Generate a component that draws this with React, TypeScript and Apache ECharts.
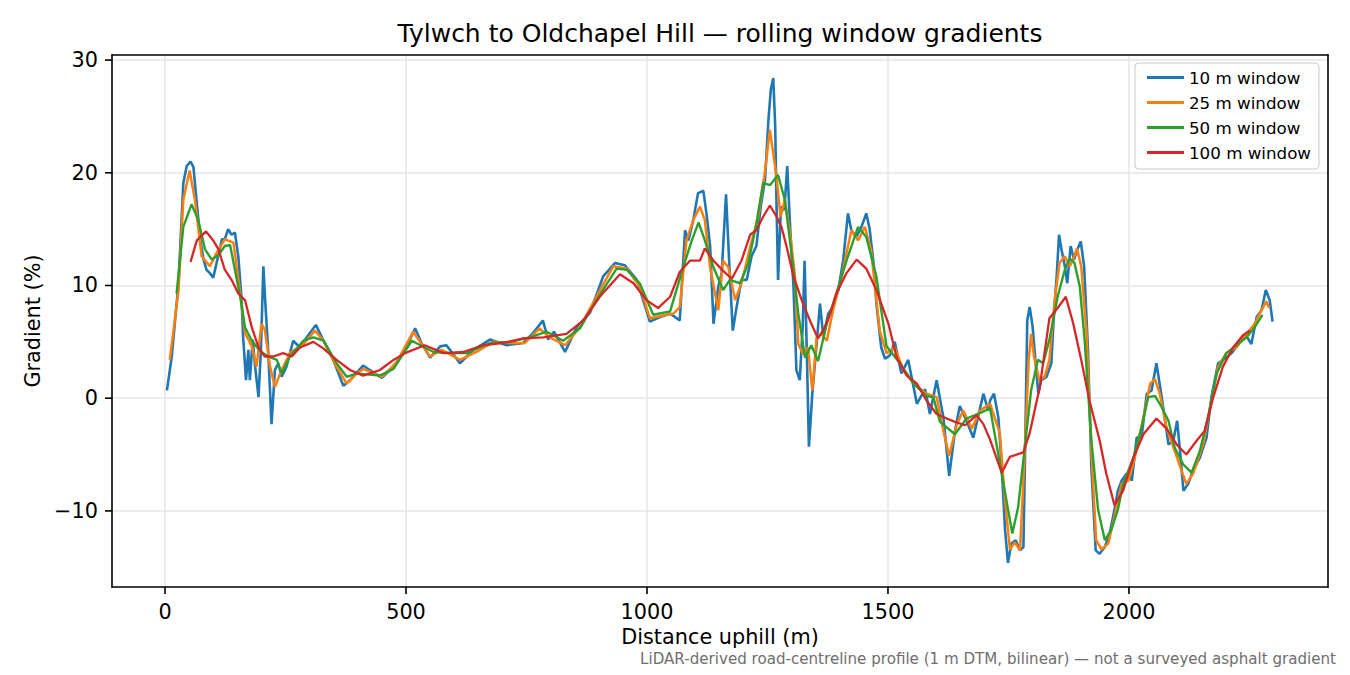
import { useEffect, useRef } from 'react'
import * as echarts from 'echarts'

const seriesNames = ['10 m window', '25 m window', '50 m window', '100 m window']
const seriesColors = ['#1f77b4', '#ff7f0e', '#2ca02c', '#d62728']
const xTicks = [0, 500, 1000, 1500, 2000]
const yTicks = [-10, 0, 10, 20, 30]

// distance (m), gradient (%)
const win10: [number, number][] = [
  [4, 0.7], [14, 3.7], [28, 10.2], [38, 19.1], [45, 20.6], [53, 21.0], [59, 20.5], [64, 18.2],
  [73, 14.1], [80, 12.3], [86, 11.4], [93, 11.1], [100, 10.7], [107, 12.0], [118, 14.1],
  [124, 14.1], [131, 15.0], [138, 14.5], [145, 14.7], [152, 12.6], [159, 8.7], [162, 5.5],
  [168, 1.6], [173, 4.3], [176, 1.6], [182, 5.2], [187, 2.8], [194, 0.1], [199, 4.3],
  [204, 11.7], [209, 7.8], [214, 4.3], [221, -2.3], [228, 2.5], [235, 3.1], [242, 1.9],
  [252, 2.8], [266, 5.1], [280, 4.5], [294, 5.4], [313, 6.5], [329, 5.1], [349, 3.4],
  [370, 1.1], [384, 1.6], [411, 2.9], [425, 2.5], [450, 1.8], [474, 2.8], [498, 4.3],
  [519, 6.2], [532, 4.9], [550, 3.6], [571, 4.6], [584, 4.7], [612, 3.1], [640, 4.3],
  [674, 5.2], [709, 4.7], [743, 4.9], [764, 5.8], [784, 6.9], [795, 5.2], [807, 5.9],
  [830, 4.1], [854, 6.3], [882, 7.6], [909, 10.8], [934, 12.0], [954, 11.8], [979, 10.5],
  [1006, 6.8], [1027, 7.2], [1048, 7.5], [1068, 6.9], [1079, 14.9], [1086, 14.0],
  [1096, 15.8], [1106, 18.2], [1117, 18.4], [1124, 16.2], [1131, 13.5], [1138, 6.6],
  [1148, 9.9], [1155, 11.1], [1164, 18.1], [1171, 11.7], [1178, 6.0], [1186, 8.1],
  [1196, 10.5], [1207, 10.5], [1217, 12.6], [1227, 13.5], [1236, 17.0], [1245, 19.4],
  [1252, 24.7], [1257, 27.4], [1262, 28.4], [1266, 24.2], [1269, 16.7], [1272, 10.5],
  [1278, 17.0], [1285, 16.7], [1291, 20.6], [1297, 15.2], [1304, 9.9], [1310, 2.5],
  [1317, 1.6], [1323, 6.3], [1327, 12.2], [1332, 3.4], [1336, -4.3], [1343, 0.4],
  [1351, 4.3], [1359, 8.4], [1366, 5.4], [1376, 7.5], [1386, 8.1], [1397, 9.6],
  [1407, 12.2], [1417, 16.4], [1424, 14.9], [1434, 14.3], [1445, 15.2], [1455, 16.4],
  [1462, 15.0], [1470, 12.0], [1476, 8.4], [1486, 4.5], [1494, 3.5], [1504, 3.8],
  [1514, 5.0], [1528, 2.2], [1542, 3.4], [1560, -0.5], [1577, 0.8], [1587, -1.4],
  [1601, 1.6], [1615, -1.7], [1627, -6.9], [1639, -2.9], [1649, -0.7], [1663, -2.0],
  [1677, -3.5], [1698, 0.4], [1708, -1.1], [1712, -0.2], [1720, 0.4], [1729, -1.7],
  [1736, -6.1], [1743, -11.7], [1749, -14.6], [1756, -12.9], [1765, -12.6], [1774, -13.5],
  [1781, -13.2], [1784, -6.1], [1789, 6.9], [1794, 8.1], [1800, 6.4], [1807, 2.8],
  [1812, 0.4], [1818, 1.6], [1829, 1.9], [1839, 3.1], [1844, 7.2], [1850, 10.8],
  [1855, 14.5], [1860, 13.2], [1867, 11.7], [1872, 10.2], [1879, 13.5], [1886, 12.3],
  [1893, 13.2], [1900, 13.9], [1907, 11.7], [1915, 4.3], [1922, -6.1], [1931, -13.5],
  [1939, -13.8], [1950, -13.2], [1960, -12.0], [1970, -9.9], [1977, -8.2], [1985, -7.3],
  [1995, -6.7], [2006, -7.3], [2016, -3.5], [2026, -3.5], [2037, 0.4], [2047, 0.7],
  [2057, 3.1], [2068, 0.1], [2082, -4.1], [2092, -3.8], [2100, -2.0], [2106, -4.7],
  [2113, -8.2], [2123, -7.6], [2133, -6.4], [2147, -5.3], [2161, -3.5], [2171, 0.1],
  [2185, 3.1], [2199, 3.5], [2213, 4.0], [2227, 4.8], [2241, 5.7], [2254, 4.8],
  [2265, 7.2], [2275, 7.8], [2284, 9.6], [2292, 8.7], [2298, 6.8],
]

const win25: [number, number][] = [
  [10, 3.4], [28, 9.6], [38, 17.6], [51, 20.2], [62, 17.6], [76, 12.6], [93, 11.7],
  [107, 12.9], [124, 14.1], [142, 13.8], [156, 9.3], [166, 5.8], [180, 4.6], [190, 2.8],
  [200, 6.6], [207, 6.1], [218, 2.8], [228, 1.0], [242, 2.5], [259, 4.0], [287, 4.8],
  [311, 6.0], [329, 5.1], [356, 2.8], [377, 1.3], [398, 2.2], [411, 2.6], [450, 1.9],
  [481, 3.2], [515, 5.9], [550, 3.7], [574, 4.3], [612, 3.4], [646, 4.1], [681, 5.0],
  [716, 4.9], [747, 4.9], [777, 6.2], [798, 5.4], [830, 4.7], [861, 6.3], [895, 9.0],
  [930, 11.7], [958, 11.5], [985, 9.9], [1006, 7.1], [1041, 7.4], [1055, 7.5], [1068, 8.1],
  [1082, 14.0], [1096, 15.8], [1110, 17.0], [1120, 15.8], [1131, 11.6], [1148, 7.8],
  [1158, 12.2], [1169, 11.6], [1183, 8.7], [1196, 10.2], [1214, 13.4], [1231, 16.1],
  [1245, 20.2], [1255, 23.8], [1262, 21.7], [1269, 19.6], [1277, 16.1], [1286, 17.6],
  [1297, 14.6], [1307, 10.8], [1314, 4.8], [1324, 3.9], [1334, 4.5], [1343, 0.7],
  [1352, 5.4], [1362, 5.7], [1373, 5.1], [1386, 7.8], [1404, 10.8], [1424, 14.9],
  [1438, 14.0], [1452, 15.2], [1465, 13.1], [1483, 6.0], [1497, 4.0], [1514, 4.5],
  [1532, 2.5], [1553, 1.3], [1580, 0.4], [1601, 0.1], [1615, -2.9], [1627, -5.1],
  [1643, -2.3], [1656, -1.1], [1674, -2.7], [1691, -1.1], [1712, -0.5], [1732, -3.1],
  [1743, -9.1], [1753, -13.4], [1763, -12.8], [1774, -13.5], [1784, -4.6], [1792, 3.4],
  [1797, 5.7], [1803, 3.7], [1814, 1.6], [1825, 1.9], [1835, 3.4], [1846, 8.7],
  [1856, 12.0], [1867, 12.6], [1877, 11.7], [1884, 12.3], [1892, 13.3], [1901, 11.7],
  [1912, 5.8], [1922, -4.6], [1932, -12.6], [1943, -13.4], [1957, -12.9], [1970, -10.5],
  [1985, -7.6], [1999, -7.3], [2012, -5.3], [2030, -1.7], [2044, 1.3], [2054, 1.7],
  [2064, 0.4], [2078, -2.6], [2095, -4.7], [2109, -6.4], [2119, -7.6], [2133, -6.7],
  [2154, -4.1], [2171, -0.2], [2185, 2.8], [2202, 4.0], [2223, 4.5], [2244, 5.7],
  [2261, 6.6], [2275, 7.8], [2285, 8.6], [2291, 8.0],
]

const win50: [number, number][] = [
  [24, 9.3], [38, 15.2], [55, 17.2], [69, 15.8], [83, 13.2], [97, 12.3], [111, 12.7],
  [124, 13.5], [135, 13.6], [145, 11.4], [156, 9.0], [166, 6.3], [180, 5.1], [197, 4.2],
  [214, 3.7], [232, 3.4], [242, 2.2], [259, 3.7], [287, 5.1], [308, 5.4], [329, 5.1],
  [356, 3.1], [377, 1.9], [398, 2.2], [446, 2.0], [474, 2.6], [512, 5.1], [557, 4.1],
  [591, 4.0], [626, 4.0], [674, 4.9], [716, 5.0], [757, 5.4], [792, 5.9], [826, 5.1],
  [861, 6.2], [895, 8.7], [937, 11.5], [958, 11.4], [985, 10.2], [1013, 7.4], [1048, 7.7],
  [1075, 11.6], [1093, 14.0], [1107, 15.6], [1120, 14.0], [1138, 11.6], [1158, 9.6],
  [1172, 10.5], [1193, 10.2], [1210, 11.9], [1227, 15.5], [1241, 19.1], [1255, 18.9],
  [1272, 19.8], [1286, 17.6], [1300, 12.8], [1314, 7.5], [1328, 3.6], [1341, 4.7],
  [1355, 3.3], [1373, 6.6], [1393, 9.3], [1414, 12.2], [1438, 15.2], [1455, 14.3],
  [1476, 10.8], [1497, 4.6], [1525, 3.1], [1553, 1.3], [1580, 0.2], [1594, 0.1],
  [1608, -2.1], [1639, -3.2], [1663, -1.8], [1687, -1.4], [1712, -0.9], [1736, -6.7],
  [1758, -12.0], [1770, -9.7], [1784, -4.3], [1797, 0.7], [1811, 3.4], [1822, 3.1],
  [1835, 5.2], [1852, 9.0], [1867, 11.4], [1877, 12.4], [1887, 12.0], [1898, 9.9],
  [1908, 5.2], [1922, -3.7], [1936, -9.9], [1950, -12.6], [1963, -11.7], [1977, -9.9],
  [1988, -7.6], [2009, -5.3], [2026, -2.6], [2040, 0.1], [2054, 0.2], [2068, -0.8],
  [2082, -2.0], [2095, -4.4], [2113, -5.9], [2130, -6.6], [2147, -4.7], [2164, -1.7],
  [2182, 2.2], [2202, 4.0], [2223, 4.7], [2244, 5.4], [2261, 6.3], [2277, 7.4],
]

const win100: [number, number][] = [
  [53, 12.1], [66, 14.0], [85, 14.8], [100, 14.0], [111, 13.2], [124, 11.4], [138, 10.5],
  [152, 9.3], [166, 8.7], [180, 6.3], [194, 4.5], [207, 3.7], [225, 3.7], [245, 4.0],
  [263, 3.7], [280, 4.5], [308, 5.0], [329, 4.4], [356, 3.4], [384, 2.5], [411, 2.0],
  [446, 2.5], [474, 3.4], [498, 4.0], [539, 4.7], [578, 4.0], [619, 4.1], [660, 4.7],
  [702, 4.9], [743, 5.3], [785, 5.4], [833, 5.7], [868, 6.9], [902, 9.0], [944, 11.0],
  [972, 10.2], [999, 8.7], [1023, 8.0], [1048, 9.0], [1068, 11.2], [1089, 12.2],
  [1110, 12.2], [1120, 13.3], [1138, 12.2], [1158, 11.3], [1176, 10.6], [1196, 12.2],
  [1214, 14.5], [1227, 14.9], [1241, 16.1], [1255, 17.1], [1269, 16.1], [1279, 15.2],
  [1290, 13.4], [1304, 10.8], [1321, 8.7], [1338, 6.9], [1355, 5.3], [1369, 6.3],
  [1380, 7.5], [1393, 9.3], [1414, 11.1], [1435, 12.3], [1455, 11.5], [1476, 9.6],
  [1501, 6.6], [1518, 3.6], [1539, 2.0], [1560, 1.3], [1580, -0.2], [1601, -1.4],
  [1622, -1.8], [1639, -2.1], [1660, -2.4], [1684, -1.5], [1698, -2.3], [1712, -3.7],
  [1736, -6.6], [1753, -5.2], [1781, -4.8], [1794, -3.1], [1815, 1.0], [1835, 7.1],
  [1852, 8.0], [1869, 9.0], [1884, 6.7], [1901, 3.4], [1918, -0.2], [1939, -3.7],
  [1953, -6.7], [1970, -9.5], [1988, -8.2], [2009, -5.3], [2030, -3.2], [2057, -1.8],
  [2078, -2.7], [2099, -4.1], [2119, -5.0], [2140, -3.8], [2157, -2.9], [2175, 0.1],
  [2195, 2.8], [2216, 4.5], [2237, 5.6], [2251, 6.0],
]

const allSeries = [win10, win25, win50, win100]
const lineWidths = [2.6, 2.5, 2.4, 2.3]

const FONT = 'DejaVu Sans'
const X_MIN = -110
const X_MAX = 2413
const Y_MIN = -16.75
const Y_MAX = 30.45
const TICK_LEN = 7

// plot box inside the 1350 x 675 canvas
const GRID = { left: 112, right: 22, top: 55, bottom: 88 }
const PLOT_W = 1350 - GRID.left - GRID.right
const PLOT_H = 675 - GRID.top - GRID.bottom

export default function App() {
  const ref = useRef<HTMLDivElement>(null)

  useEffect(() => {
    if (!ref.current) return
    const chart = echarts.init(ref.current, undefined, { renderer: 'svg' })

    const spine = { show: true, onZero: false, lineStyle: { color: '#000000', width: 1.6 } }
    const gridLine = { show: true, lineStyle: { color: '#e6e6e6', width: 1.5 } }

    // top / right axes only draw the remaining two sides of the frame
    const frameAxis = {
      type: 'value' as const,
      min: 0,
      max: 1,
      axisLine: spine,
      axisTick: { show: false },
      axisLabel: { show: false },
      splitLine: { show: false },
    }

    // outward tick marks sit just outside the plot box, where the axis ticks get lost
    const xPx = (v: number) => GRID.left + ((v - X_MIN) / (X_MAX - X_MIN)) * PLOT_W
    const yPx = (v: number) => GRID.top + ((Y_MAX - v) / (Y_MAX - Y_MIN)) * PLOT_H
    const bottom = GRID.top + PLOT_H
    const tickStyle = { stroke: '#000000', lineWidth: 1.6 }
    const ticks = [
      ...xTicks.map((v) => ({
        type: 'line' as const,
        silent: true,
        z: 50,
        shape: { x1: xPx(v), y1: bottom, x2: xPx(v), y2: bottom + TICK_LEN },
        style: tickStyle,
      })),
      ...yTicks.map((v) => ({
        type: 'line' as const,
        silent: true,
        z: 50,
        shape: { x1: GRID.left - TICK_LEN, y1: yPx(v), x2: GRID.left, y2: yPx(v) },
        style: tickStyle,
      })),
    ]

    const option: echarts.EChartsOption = {
      animation: false,
      backgroundColor: '#ffffff',
      grid: { ...GRID, show: false },
      graphic: [
        {
          type: 'text',
          x: 720,
          y: 33,
          style: {
            text: 'Tylwch to Oldchapel Hill — rolling window gradients',
            fontFamily: FONT,
            fontSize: 25,
            fill: '#000000',
            textAlign: 'center',
            textVerticalAlign: 'middle',
          },
        },
        {
          type: 'text',
          x: 1336,
          y: 659,
          style: {
            text: 'LiDAR-derived road-centreline profile (1 m DTM, bilinear) — not a surveyed asphalt gradient',
            fontFamily: FONT,
            fontSize: 15.1,
            fill: '#6e6e6e',
            textAlign: 'right',
            textVerticalAlign: 'middle',
          },
        },
        ...ticks,
      ],
      legend: {
        data: seriesNames,
        orient: 'vertical',
        right: 31,
        top: 63,
        icon: 'rect',
        itemWidth: 37,
        itemHeight: 3,
        itemGap: 8,
        itemTextGap: 15,
        padding: [6, 8, 8, 12],
        borderColor: '#cccccc',
        borderWidth: 1,
        borderRadius: 4,
        backgroundColor: 'rgba(255,255,255,0.8)',
        textStyle: { fontFamily: FONT, fontSize: 16.7, color: '#000000', lineHeight: 17 },
      },
      xAxis: [
        {
          type: 'value',
          position: 'bottom',
          min: X_MIN,
          max: X_MAX,
          name: 'Distance uphill (m)',
          nameLocation: 'middle',
          nameGap: 39,
          nameTextStyle: { fontFamily: FONT, fontSize: 20.8, color: '#000000' },
          axisLine: spine,
          axisTick: { show: false, customValues: xTicks },
          axisLabel: {
            customValues: xTicks,
            margin: 14,
            fontFamily: FONT,
            fontSize: 20.8,
            color: '#000000',
            formatter: (v: number) => String(v),
          },
          splitLine: gridLine,
        },
        { ...frameAxis, position: 'top' },
      ],
      yAxis: [
        {
          type: 'value',
          position: 'left',
          min: Y_MIN,
          max: Y_MAX,
          name: 'Gradient (%)',
          nameLocation: 'middle',
          nameGap: 66,
          nameTextStyle: { fontFamily: FONT, fontSize: 20.8, color: '#000000' },
          axisLine: spine,
          axisTick: { show: false, customValues: yTicks },
          axisLabel: {
            customValues: yTicks,
            margin: 14,
            fontFamily: FONT,
            fontSize: 20.8,
            color: '#000000',
            formatter: (v: number) => (v < 0 ? '\u2212' + Math.abs(v) : String(v)),
          },
          splitLine: gridLine,
        },
        { ...frameAxis, position: 'right' },
      ],
      series: allSeries.map((d, i) => ({
        name: seriesNames[i],
        type: 'line' as const,
        xAxisIndex: 0,
        yAxisIndex: 0,
        data: d,
        symbol: 'none',
        showSymbol: false,
        color: seriesColors[i],
        lineStyle: { color: seriesColors[i], width: lineWidths[i] },
        z: 2 + i,
      })),
    }

    chart.setOption(option)
    return () => chart.dispose()
  }, [])

  return (
    <div
      ref={ref}
      style={{ position: 'absolute', left: 0, top: 0, width: 1350, height: 675 }}
    />
  )
}
